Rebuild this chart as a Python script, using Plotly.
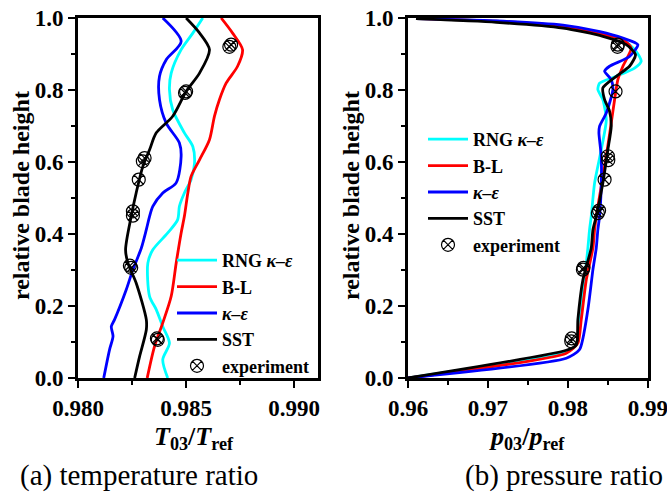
import plotly.graph_objects as go

# ---------------- data: (a) temperature ratio ----------------
t_rng_x = [0.98415, 0.98392, 0.98423, 0.98392, 0.98362, 0.98331, 0.98323, 0.98346, 0.98415, 0.98461,
           0.98469, 0.98492, 0.98523, 0.98539, 0.98531, 0.98492, 0.98438, 0.98423, 0.98431, 0.98477,
           0.98531, 0.98577]
t_rng_y = [0.0, 0.051, 0.097, 0.143, 0.190, 0.227, 0.319, 0.356, 0.403, 0.440,
           0.477, 0.514, 0.551, 0.597, 0.643, 0.681, 0.745, 0.801, 0.847, 0.912,
           0.958, 1.0]

t_bl_x = [0.98320, 0.98354, 0.98392, 0.98431, 0.98454, 0.98477, 0.98492, 0.98508, 0.98523, 0.98562,
          0.98608, 0.98631, 0.98654, 0.98685, 0.98738, 0.98761, 0.98715, 0.98662]
t_bl_y = [0.0, 0.088, 0.153, 0.227, 0.319, 0.403, 0.449, 0.514, 0.560, 0.606,
          0.662, 0.727, 0.773, 0.819, 0.866, 0.912, 0.958, 1.0]

t_ke_x = [0.98119, 0.98146, 0.98162, 0.98154, 0.98169, 0.98223, 0.98254, 0.98293, 0.98316, 0.98331,
          0.98346, 0.98392, 0.98454, 0.98477, 0.98469, 0.98408, 0.98377, 0.98377, 0.98408, 0.98477,
          0.98392]
t_ke_y = [0.0, 0.079, 0.116, 0.143, 0.162, 0.245, 0.301, 0.361, 0.412, 0.449,
          0.477, 0.514, 0.542, 0.616, 0.653, 0.708, 0.773, 0.838, 0.884, 0.935,
          1.0]

t_sst_x = [0.98262, 0.98285, 0.98316, 0.98316, 0.98269, 0.98231, 0.98220, 0.98246, 0.98269, 0.98300,
           0.98331, 0.98362, 0.98438, 0.98500, 0.98562, 0.98608, 0.98560, 0.98500]
t_sst_y = [0.0, 0.060, 0.134, 0.162, 0.264, 0.319, 0.356, 0.449, 0.514, 0.588,
           0.634, 0.681, 0.727, 0.796, 0.847, 0.912, 0.960, 1.0]

t_exp_x = [0.98369, 0.98365, 0.98246, 0.98240, 0.98254, 0.98254, 0.98281, 0.98308, 0.98300, 0.98500, 0.98495, 0.98708, 0.98700]
t_exp_y = [0.106, 0.110, 0.306, 0.312, 0.451, 0.463, 0.551, 0.611, 0.602, 0.796, 0.792, 0.926, 0.920]

# ---------------- data: (b) pressure ratio ----------------
p_rng_x = [0.9600, 0.97980, 0.98105, 0.98146, 0.98209, 0.98250, 0.98271, 0.98292, 0.98334, 0.98417,
           0.98480, 0.98438, 0.98375, 0.98396, 0.98605, 0.98834, 0.98917, 0.98855, 0.98688, 0.98355,
           0.97938, 0.97105, 0.9610]
p_rng_y = [0.0, 0.073, 0.092, 0.162, 0.273, 0.361, 0.412, 0.449, 0.542, 0.634,
           0.717, 0.773, 0.801, 0.819, 0.838, 0.861, 0.880, 0.907, 0.940, 0.958,
           0.977, 0.991, 0.998]

p_bl_x = [0.9600, 0.97980, 0.98125, 0.98167, 0.98230, 0.98313, 0.98334, 0.98355, 0.98417, 0.98480,
          0.98542, 0.98584, 0.98625, 0.98688, 0.98792, 0.98688, 0.98355, 0.97938, 0.97105, 0.9610]
p_bl_y = [0.0, 0.069, 0.097, 0.162, 0.273, 0.361, 0.412, 0.449, 0.532, 0.616,
          0.708, 0.773, 0.829, 0.866, 0.917, 0.940, 0.958, 0.977, 0.991, 0.998]

p_ke_x = [0.9600, 0.97980, 0.98146, 0.98250, 0.98313, 0.98355, 0.98375, 0.98396, 0.98417, 0.98417,
          0.98388, 0.98396, 0.98480, 0.98563, 0.98542, 0.98459, 0.98521, 0.98771, 0.98875, 0.98688,
          0.98400, 0.97938, 0.97105, 0.9610]
p_ke_y = [0.0, 0.055, 0.079, 0.190, 0.301, 0.361, 0.412, 0.449, 0.532, 0.616,
          0.681, 0.699, 0.736, 0.801, 0.829, 0.852, 0.866, 0.893, 0.926, 0.944,
          0.962, 0.980, 0.992, 0.998]

p_sst_x = [0.9600, 0.97980, 0.98105, 0.98125, 0.98188, 0.98292, 0.98313, 0.98355, 0.98438, 0.98500,
           0.98542, 0.98521, 0.98459, 0.98438, 0.98605, 0.98771, 0.98846, 0.98730, 0.98438, 0.97938,
           0.97105, 0.9610]
p_sst_y = [0.0, 0.077, 0.092, 0.162, 0.273, 0.361, 0.412, 0.449, 0.542, 0.634,
           0.699, 0.741, 0.773, 0.806, 0.838, 0.866, 0.898, 0.926, 0.949, 0.972,
           0.988, 0.998]

p_exp_x = [0.98042, 0.98048, 0.98188, 0.98195, 0.98375, 0.98390, 0.98459, 0.98500, 0.98505, 0.98596, 0.98625, 0.98620]
p_exp_y = [0.102, 0.110, 0.301, 0.306, 0.458, 0.465, 0.551, 0.616, 0.605, 0.796, 0.926, 0.920]

names = ["RNG <i>κ–ε</i>", "B-L", "<i>κ–ε</i>", "SST", "experiment"]
colors = ["#00FFFF", "#FF0000", "#0000FF", "#000000"]

FONT = "Liberation Serif"
W, H = 667, 495

fig = go.Figure()

left = [(t_rng_x, t_rng_y), (t_bl_x, t_bl_y), (t_ke_x, t_ke_y), (t_sst_x, t_sst_y)]
right = [(p_rng_x, p_rng_y), (p_bl_x, p_bl_y), (p_ke_x, p_ke_y), (p_sst_x, p_sst_y)]

for i, (xs, ys) in enumerate(left):
    fig.add_trace(go.Scatter(x=xs, y=ys, mode="lines", name=names[i],
                             line=dict(color=colors[i], width=2.8, shape="spline", smoothing=0.8),
                             xaxis="x", yaxis="y", legend="legend"))
fig.add_trace(go.Scatter(x=t_exp_x, y=t_exp_y, mode="markers", name=names[4],
                         marker=dict(symbol="circle-x-open", size=13, color="black", line=dict(width=1.2)),
                         xaxis="x", yaxis="y", legend="legend"))

for i, (xs, ys) in enumerate(right):
    fig.add_trace(go.Scatter(x=xs, y=ys, mode="lines", name=names[i],
                             line=dict(color=colors[i], width=2.8, shape="spline", smoothing=0.6),
                             xaxis="x2", yaxis="y2", legend="legend2"))
fig.add_trace(go.Scatter(x=p_exp_x, y=p_exp_y, mode="markers", name=names[4],
                         marker=dict(symbol="circle-x-open", size=13, color="black", line=dict(width=1.2)),
                         xaxis="x2", yaxis="y2", legend="legend2"))

tickfont = dict(family=FONT, size=23, color="black", weight="bold")
common_axis = dict(showline=True, linewidth=3, linecolor="black", mirror=True,
                   ticks="outside", ticklen=7, tickwidth=2, tickcolor="black",
                   showgrid=False, zeroline=False, tickfont=tickfont, automargin=False,
                   ticklabeloverflow="allow")

ydom = [117 / H, 477 / H]
fig.update_layout(
    template="none",
    width=W, height=H, margin=dict(l=0, r=0, t=0, b=0, autoexpand=False),
    paper_bgcolor="white", plot_bgcolor="white",
    font=dict(family=FONT, color="black"),
    xaxis=dict(domain=[78 / W, 318 / W], range=[0.980, 0.9911], tickvals=[0.980, 0.985, 0.990],
               ticktext=["0.980", "0.985", "0.990"],
               minor=dict(ticks="outside", ticklen=4, tickwidth=2, tickcolor="black", dtick=0.0025),
               anchor="y", **common_axis),
    yaxis=dict(domain=ydom, range=[0, 1.0], tickvals=[0, 0.2, 0.4, 0.6, 0.8, 1.0],
               ticktext=["0.0", "0.2", "0.4", "0.6", "0.8", "1.0"],
               minor=dict(ticks="outside", ticklen=4, tickwidth=2, tickcolor="black", dtick=0.1),
               anchor="x", **common_axis),
    xaxis2=dict(domain=[408 / W, 648 / W], range=[0.96, 0.99002], tickvals=[0.96, 0.97, 0.98, 0.99],
                ticktext=["0.96", "0.97", "0.98", "0.99"],
                minor=dict(ticks="outside", ticklen=4, tickwidth=2, tickcolor="black", dtick=0.005),
                anchor="y2", **common_axis),
    yaxis2=dict(domain=ydom, range=[0, 1.0], tickvals=[0, 0.2, 0.4, 0.6, 0.8, 1.0],
                ticktext=["0.0", "0.2", "0.4", "0.6", "0.8", "1.0"],
                minor=dict(ticks="outside", ticklen=4, tickwidth=2, tickcolor="black", dtick=0.1),
                anchor="x2", **common_axis),
    legend=dict(x=172 / W, y=(H - 242) / H, xanchor="left", yanchor="top",
                bgcolor="rgba(0,0,0,0)", itemwidth=40,
                font=dict(family=FONT, size=18, color="black", weight="bold")),
    legend2=dict(x=423 / W, y=(H - 121) / H, xanchor="left", yanchor="top",
                 bgcolor="rgba(0,0,0,0)", itemwidth=40,
                 font=dict(family=FONT, size=18, color="black", weight="bold")),
    showlegend=True,
)

ann_bold = dict(family=FONT, size=24, color="black", weight="bold")
cap_font = dict(family=FONT, size=29, color="black")
common_ann = dict(xref="paper", yref="paper", showarrow=False, xanchor="center", yanchor="middle")
fig.add_annotation(x=21 / W, y=(H - 196) / H, text="relative blade height",
                   textangle=-90, font=ann_bold, **common_ann)
fig.add_annotation(x=351 / W, y=(H - 196) / H, text="relative blade height",
                   textangle=-90, font=ann_bold, **common_ann)
fig.add_annotation(x=194 / W, y=(H - 438) / H,
                   text="<i>T</i><sub>03</sub>/<i>T</i><sub>ref</sub>",
                   font=dict(family=FONT, size=26, color="black", weight="bold"), **common_ann)
fig.add_annotation(x=527 / W, y=(H - 438) / H,
                   text="<i>p</i><sub>03</sub>/<i>p</i><sub>ref</sub>",
                   font=dict(family=FONT, size=26, color="black", weight="bold"), **common_ann)
fig.add_annotation(x=139 / W, y=(H - 475) / H, text="(a) temperature ratio", font=cap_font, **common_ann)
fig.add_annotation(x=564 / W, y=(H - 475) / H, text="(b) pressure ratio", font=cap_font, **common_ann)

fig.write_html("out.html")
